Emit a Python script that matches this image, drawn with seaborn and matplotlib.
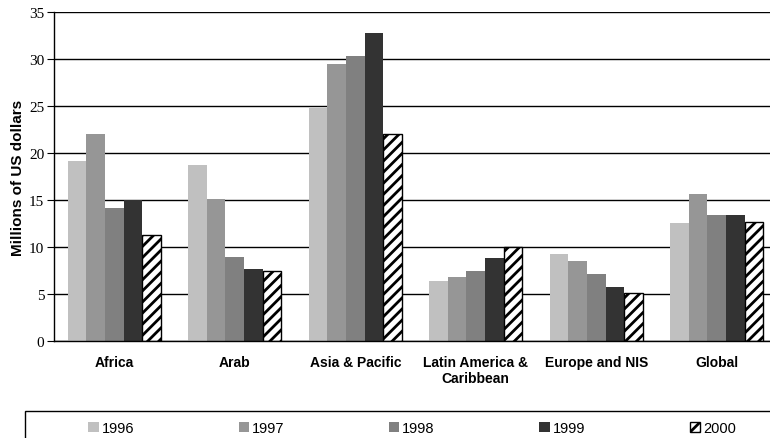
import pandas as pd
import numpy as np
import matplotlib.pyplot as plt
import seaborn as sns
from matplotlib.patches import Rectangle

regions = ["Africa", "Arab", "Asia & Pacific", "Latin America &\nCaribbean",
           "Europe and NIS", "Global"]
years = ["1996", "1997", "1998", "1999", "2000"]
v1996 = [19.2, 18.7, 24.8, 6.4, 9.3, 12.6]
v1997 = [22.0, 15.1, 29.5, 6.8, 8.5, 15.6]
v1998 = [14.2, 8.9, 30.3, 7.4, 7.1, 13.4]
v1999 = [15.0, 7.7, 32.8, 8.8, 5.7, 13.4]
v2000 = [11.3, 7.5, 22.0, 10.0, 5.1, 12.7]
colors = ["#c0c0c0", "#969696", "#808080", "#333333", "#ffffff"]

wide = pd.DataFrame({"region": regions, "1996": v1996, "1997": v1997,
                     "1998": v1998, "1999": v1999, "2000": v2000})
df = wide.melt(id_vars="region", var_name="year", value_name="value")

sns.set_style("white")
plt.rcParams["hatch.linewidth"] = 2.0
narrow = ["Liberation Sans Narrow", "Liberation Sans", "DejaVu Sans"]

fig = plt.figure(figsize=(7.7, 4.39), dpi=100)
ax = fig.add_axes([54 / 770, 97 / 439, 723 / 770, 329 / 439])

sns.barplot(data=df, x="region", y="value", hue="year", hue_order=years,
            palette=colors, width=0.77, saturation=1, linewidth=0,
            legend=False, ax=ax)

# hatched 2000 bars
for p in ax.containers[-1].patches:
    p.set_facecolor("white")
    p.set_edgecolor("black")
    p.set_linewidth(1.0)
    p.set_hatch("///")

ax.set_xlim(-0.5, 5.5)
ax.set_ylim(0, 35)
ax.set_yticks(np.arange(0, 36, 5))
ax.yaxis.grid(True, color="black", linewidth=1)
ax.set_axisbelow(True)

for s in ["top", "right"]:
    ax.spines[s].set_visible(False)
for s in ["left", "bottom"]:
    ax.spines[s].set_color("black")
    ax.spines[s].set_linewidth(1)

ax.set_xticks(range(len(regions)))
ax.set_xticklabels(regions, fontweight="bold", fontsize=10, family=narrow,
                   color="black")
ax.set_xticks(np.arange(0.5, 5.5, 1), minor=True)
ax.tick_params(axis="x", which="major", length=0, pad=10)
ax.tick_params(axis="x", which="minor", length=4, direction="out", color="black")
ax.tick_params(axis="y", length=5, direction="out", color="black", left=True,
               pad=2, labelcolor="black")
for t in ax.get_yticklabels():
    t.set_family("Liberation Serif")
    t.set_fontsize(11)

ax.set_xlabel("")
ax.set_ylabel("Millions of US dollars", fontweight="bold", fontsize=11,
              family="Liberation Sans", labelpad=3, color="black")

# legend frame, running off the bottom/right like the reference
fig.patches.append(Rectangle((25 / 770, -0.2), 1.0, 0.2 + (439 - 412) / 439,
                             transform=fig.transFigure, fill=False,
                             edgecolor="black", linewidth=1))

handles = [c.patches[0] for c in ax.containers]
top = 1 - 418 / 439
h = 24 / 439
leg = fig.legend(handles, years, loc="upper left",
                 bbox_to_anchor=(84 / 770, top - h, 656 / 770, h),
                 mode="expand", ncol=5, frameon=False,
                 handlelength=0.7, handleheight=0.7, handletextpad=0.2,
                 borderaxespad=0, borderpad=0.3,
                 prop={"family": narrow, "size": 10.5})
for t in leg.get_texts():
    t.set_color("black")

fig.savefig("out.png", dpi=100)
